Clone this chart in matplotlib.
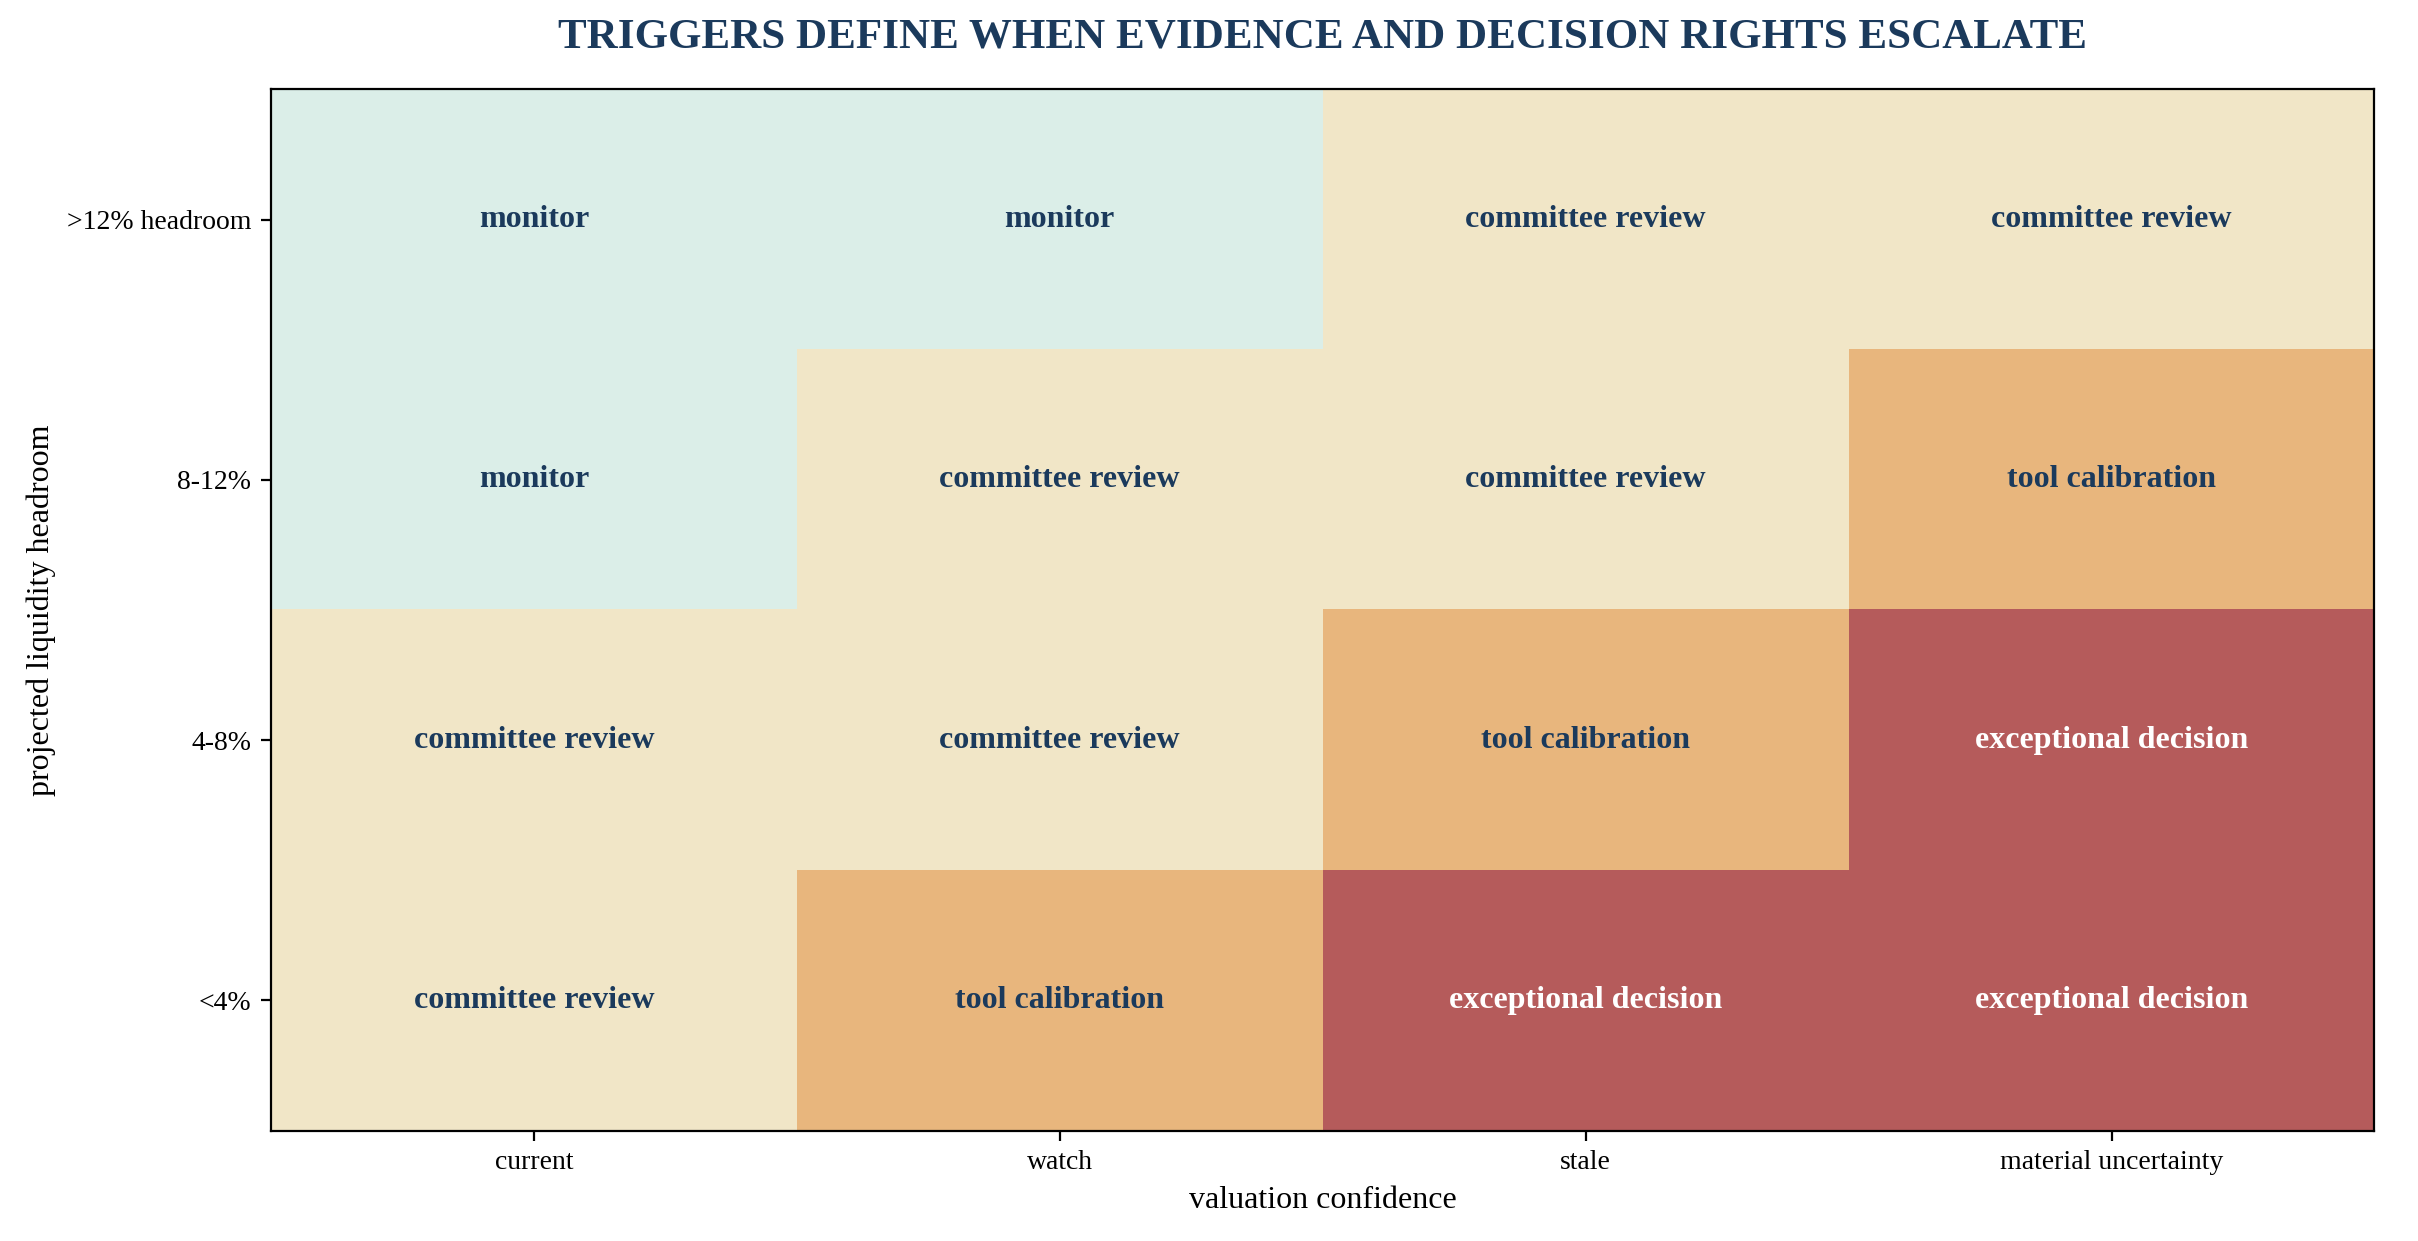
import matplotlib
matplotlib.use('Agg')
import matplotlib.pyplot as plt
from matplotlib.colors import ListedColormap
import numpy as np

plt.rcParams['font.family'] = ['Liberation Serif', 'DejaVu Serif']

# 데이터
confidence = ['current', 'watch', 'stale', 'material uncertainty']
headroom = ['>12% headroom', '8-12%', '4-8%', '<4%']
actions = ['monitor', 'committee review', 'tool calibration', 'exceptional decision']
# action level per cell, rows top->bottom
levels = [
    [0, 0, 1, 1],
    [0, 1, 1, 2],
    [1, 1, 2, 3],
    [1, 2, 3, 3],
]
colors = ['#dbeee8', '#f1e6c7', '#e8b67d', '#b55b5b']
navy = '#1b3a5c'

fig = plt.figure(figsize=(12.09, 6.205), dpi=200)
ax = fig.add_axes([0.112, 0.089, 0.870, 0.839])

grid = np.array(levels)
ax.imshow(grid, cmap=ListedColormap(colors), vmin=-0.5, vmax=3.5, aspect='auto')

for i, row in enumerate(levels):
    for j, lv in enumerate(row):
        ax.text(j, i, actions[lv], ha='center', va='center', fontsize=11.5,
                fontweight='bold', color='white' if lv == 3 else navy)

ax.set_xticks(range(len(confidence)))
ax.set_xticklabels(confidence, fontsize=10)
ax.set_yticks(range(len(headroom)))
ax.set_yticklabels(headroom, fontsize=10)
ax.set_xlabel('valuation confidence', fontsize=11.5)
ax.set_ylabel('projected liquidity headroom', fontsize=11.5)
ax.set_title('TRIGGERS DEFINE WHEN EVIDENCE AND DECISION RIGHTS ESCALATE',
             fontsize=15.5, fontweight='bold', color=navy, pad=15)

fig.savefig('out.png', dpi=200)
